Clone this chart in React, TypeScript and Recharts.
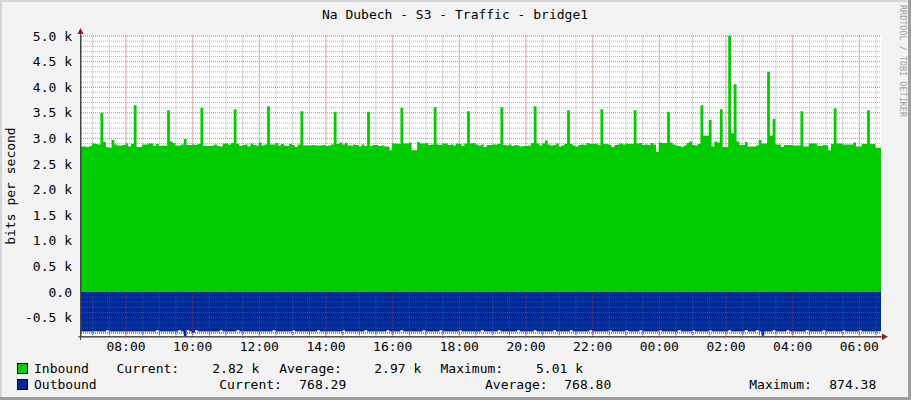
import React from 'react';
import { ComposedChart, Area, XAxis, YAxis, CartesianGrid, ReferenceLine } from 'recharts';

// 5-minute samples, bits per second, starting 06:39
const inbound = [
  2840, 2840, 2830, 2850, 2900, 2890, 2880, 3500, 2930, 2830, 2820, 2970,
  2880, 2860, 2860, 2870, 2900, 2840, 2890, 3650, 2830, 2830, 2880, 2880,
  2900, 2900, 2850, 2890, 2850, 2860, 2850, 3550, 2940, 2910, 2860, 2860,
  2880, 2990, 2870, 2870, 2880, 2870, 2890, 3600, 2850, 2850, 2850, 2860,
  2880, 2850, 2840, 2900, 2900, 2880, 2910, 3570, 2890, 2850, 2870, 2880,
  2840, 2900, 2870, 2860, 2920, 2860, 2880, 3630, 2880, 2880, 2910, 2860,
  2890, 2860, 2850, 2890, 2870, 2830, 2880, 3530, 2860, 2860, 2860, 2870,
  2860, 2860, 2860, 2870, 2850, 2860, 2880, 3520, 2890, 2920, 2880, 2910,
  2860, 2860, 2880, 2870, 2840, 2880, 2850, 3520, 2850, 2870, 2870, 2850,
  2860, 2840, 2840, 2770, 2900, 2900, 2890, 3600, 2900, 2900, 2920, 2770,
  2770, 2930, 2900, 2900, 2910, 2870, 2880, 3610, 2880, 2870, 2900, 2900,
  2870, 2880, 2860, 2900, 2890, 2850, 2900, 3530, 2900, 2910, 2880, 2860,
  2880, 2830, 2870, 2870, 2880, 2880, 2890, 3610, 2870, 2860, 2880, 2850,
  2870, 2860, 2840, 2850, 2850, 2860, 2910, 3630, 2900, 2860, 2900, 2960,
  2880, 2860, 2870, 2900, 2840, 2860, 2890, 3550, 2890, 2860, 2840, 2870,
  2880, 2870, 2910, 2890, 2890, 2900, 2870, 3570, 2890, 2890, 2870, 2830,
  2870, 2880, 2900, 2880, 2900, 2890, 2890, 3550, 2900, 2910, 2870, 2880,
  2870, 2910, 2880, 2740, 2920, 2910, 2910, 3520, 2920, 2880, 2860, 2850,
  2830, 2860, 2910, 2940, 2870, 2860, 2890, 3650, 3050, 3050, 3360, 2840,
  2940, 2920, 3570, 2830, 2830, 5010, 3100, 4060, 2940, 2870, 2870, 2930,
  2840, 2840, 2840, 2860, 2970, 2900, 2900, 4300, 3050, 3380, 2880, 2880,
  2830, 2870, 2870, 2870, 2860, 2860, 2860, 3530, 2840, 2840, 2900, 2900,
  2900, 2850, 2850, 2870, 2860, 2770, 2890, 3590, 2900, 2900, 2880, 2880,
  2880, 2880, 2920, 2840, 2840, 2890, 2890, 3550, 2890, 2890, 2820, 2820,
];

const outbound = [
  772, 772, 770, 771, 771, 768, 772, 771, 771, 745, 771, 772,
  770, 771, 772, 770, 769, 772, 771, 770, 772, 771, 770, 772,
  771, 772, 772, 745, 771, 771, 770, 771, 772, 772, 771, 745,
  771, 874, 745, 771, 795, 745, 771, 772, 771, 771, 770, 771,
  772, 771, 745, 771, 772, 771, 771, 772, 745, 771, 771, 772,
  771, 772, 771, 770, 772, 771, 772, 771, 771, 745, 772, 771,
  771, 772, 772, 771, 745, 771, 772, 771, 771, 772, 772, 771,
  771, 745, 772, 771, 772, 771, 771, 770, 772, 771, 745, 772,
  772, 771, 771, 772, 771, 771, 745, 772, 771, 772, 771, 771,
  771, 772, 745, 771, 772, 771, 771, 745, 772, 771, 772, 771,
  772, 771, 772, 745, 771, 771, 772, 771, 771, 745, 771, 772,
  771, 772, 771, 771, 745, 772, 771, 771, 772, 771, 771, 772,
  745, 771, 772, 771, 771, 772, 745, 771, 772, 771, 771, 772,
  771, 745, 772, 771, 772, 771, 771, 745, 771, 772, 771, 771,
  772, 771, 745, 771, 772, 771, 771, 772, 745, 771, 772, 771,
  771, 772, 771, 745, 771, 772, 771, 771, 772, 771, 745, 771,
  772, 771, 771, 772, 745, 771, 772, 771, 771, 745, 772, 771,
  771, 772, 771, 771, 745, 772, 771, 771, 772, 771, 771, 745,
  772, 771, 771, 772, 745, 771, 772, 771, 771, 772, 745, 771,
  772, 771, 771, 772, 771, 745, 772, 771, 771, 772, 771, 740,
  771, 772, 771, 745, 772, 853, 771, 772, 771, 745, 772, 771,
  771, 772, 745, 771, 772, 771, 771, 772, 771, 745, 771, 772,
  771, 771, 772, 745, 771, 772, 771, 771, 772, 771, 745, 771,
  772, 771, 771, 772, 745, 771, 772, 771, 771, 772, 771, 768,
];

const timeLabels = ['08:00', '10:00', '12:00', '14:00', '16:00', '18:00', '20:00', '22:00', '00:00', '02:00', '04:00', '06:00'];
const yTicks = [-500, 0, 500, 1000, 1500, 2000, 2500, 3000, 3500, 4000, 4500, 5000];

const START = 399; // 06:39 in minutes
const STEP = 5;
const END = START + 1440;
const Y_MIN = -874.38;
const Y_MAX = 5010;

// plot box in pixels
const PLOT_L = 81;
const PLOT_W = 800;
const PLOT_T = 35.5;
const PLOT_H = 301.3;

const toMinutes = (label: string) => {
  const [h, m] = label.split(':').map(Number);
  const v = h * 60 + m;
  return v < START ? v + 1440 : v;
};
const timeTicks = timeLabels.map(toMinutes);

const rows = inbound.map((v, i) => ({ t: START + i * STEP, inb: v, out: -outbound[i] }));
// close the last step at the right edge
rows.push({ t: START + inbound.length * STEP, inb: inbound[inbound.length - 1], out: -outbound[outbound.length - 1] });

// minor grid: every 30 minutes, every 100 bits
const minorX: number[] = [];
for (let m = 420; m < END; m += 30) minorX.push(m);
const minorY: number[] = [];
for (let v = -800; v <= 5000; v += 100) minorY.push(v);

const px = (m: number) => PLOT_L + ((m - START) / (END - START)) * PLOT_W;
const py = (v: number) => PLOT_T + ((Y_MAX - v) / (Y_MAX - Y_MIN)) * PLOT_H;

const fmtY = (v: number) => (v === 0 ? '0.0' : `${(v / 1000).toFixed(1)} k`);
const fmtX = (v: number) => timeLabels[timeTicks.indexOf(v)] ?? '';

const FONT = '"DejaVu Sans Mono", monospace';
const GREEN = '#00cc00';
const BLUE = '#002a97';
const MINOR = '#b0b0b0';
const MAJOR = '#ec8c8c';

const App: React.FC = () => {
  return (
    <div style={{ position: 'absolute', left: 0, top: 0, width: 911, height: 400, background: '#f3f3f3', fontFamily: FONT }}>
      <ComposedChart
        width={911}
        height={400}
        data={rows}
        margin={{ top: PLOT_T, right: 911 - PLOT_L - PLOT_W, bottom: 400 - PLOT_T - PLOT_H - 20, left: PLOT_L - 75 }}
      >
        <CartesianGrid
          fill="#ffffff"
          stroke={MINOR}
          strokeDasharray="1 1"
          verticalPoints={minorX.map(px)}
          horizontalPoints={minorY.map(py)}
        />
        <CartesianGrid
          stroke={MAJOR}
          strokeDasharray="1 1"
          verticalPoints={timeTicks.map(px)}
          horizontalPoints={yTicks.map(py)}
        />
        <XAxis
          type="number"
          dataKey="t"
          domain={[START, END]}
          allowDataOverflow
          ticks={timeTicks}
          tickFormatter={fmtX}
          height={20}
          tickSize={5}
          tickMargin={0}
          tickLine={false}
          axisLine={{ stroke: '#444' }}
          tick={{ fill: '#000', fontSize: 13, fontFamily: FONT }}
        />
        <YAxis
          type="number"
          domain={[Y_MIN, Y_MAX]}
          allowDataOverflow
          ticks={yTicks}
          tickFormatter={fmtY}
          width={75}
          tickSize={6}
          tickMargin={3}
          tickLine={false}
          axisLine={{ stroke: '#444' }}
          tick={{ fill: '#000', fontSize: 13, fontFamily: FONT }}
        />
        <Area
          type="stepAfter"
          dataKey="inb"
          baseValue={0}
          fill={GREEN}
          fillOpacity={1}
          stroke="none"
          isAnimationActive={false}
        />
        <Area
          type="stepAfter"
          dataKey="out"
          baseValue={0}
          fill={BLUE}
          fillOpacity={1}
          stroke="none"
          isAnimationActive={false}
        />
        {/* grid shows faintly through the outbound area in rrdtool */}
        {minorX.map((m) => (
          <ReferenceLine
            key={`vx-${m}`}
            segment={[{ x: m, y: 0 }, { x: m, y: Y_MIN }]}
            stroke={timeTicks.includes(m) ? '#5a3a86' : '#2a4aa6'}
            strokeDasharray="1 1"
          />
        ))}
        {minorY.filter((v) => v < 0).map((v) => (
          <ReferenceLine
            key={`hy-${v}`}
            segment={[{ x: START, y: v }, { x: END, y: v }]}
            stroke={yTicks.includes(v) ? '#5a3a86' : '#2a4aa6'}
            strokeDasharray="1 1"
          />
        ))}
      </ComposedChart>

      {/* rrdtool-style frame, arrows, title and legend */}
      <svg width={911} height={400} style={{ position: 'absolute', left: 0, top: 0, pointerEvents: 'none' }}>
        <rect x={0} y={0} width={911} height={2} fill="#d6d6d6" />
        <rect x={0} y={0} width={2} height={400} fill="#d6d6d6" />
        <rect x={908} y={0} width={3} height={400} fill="#9e9e9e" />
        <rect x={0} y={397} width={911} height={3} fill="#9e9e9e" />

        <line x1={80.5} y1={31} x2={80.5} y2={340} stroke="#444" />
        <line x1={78} y1={336.8} x2={884} y2={336.8} stroke="#444" />
        <polygon points="77.5,34 83.5,34 80.5,28" fill="#8b1c1c" />
        <polygon points="882,333.5 882,340 888,336.8" fill="#8b1c1c" />

        <text x={455} y={19} textAnchor="middle" fontFamily={FONT} fontSize={13} fill="#000">
          Na Dubech - S3 - Traffic - bridge1
        </text>
        <text transform="translate(15,186) rotate(-90)" textAnchor="middle" fontFamily={FONT} fontSize={13} fill="#000">
          bits per second
        </text>
        <text
          transform="translate(900,5) rotate(90)"
          fontFamily={FONT}
          fontSize={9}
          fill="#a0a0a0"
          textLength={112}
          lengthAdjust="spacingAndGlyphs"
        >
          RRDTOOL / TOBI OETIKER
        </text>

        <g fontFamily={FONT} fontSize={13} fill="#000" style={{ whiteSpace: 'pre' }}>
          <rect x={17.5} y={363.5} width={10} height={10} fill={GREEN} stroke="#000" />
          <text x={34} y={373}>Inbound</text>
          <text x={116.5} y={373}>Current:</text>
          <text x={212.3} y={373}>2.82 k</text>
          <text x={279.3} y={373}>Average:</text>
          <text x={374.3} y={373}>2.97 k</text>
          <text x={440.5} y={373}>Maximum:</text>
          <text x={536} y={373}>5.01 k</text>

          <rect x={17.5} y={379.5} width={10} height={10} fill={BLUE} stroke="#000" />
          <text x={34} y={389}>Outbound</text>
          <text x={219.3} y={389}>Current:</text>
          <text x={299.3} y={389}>768.29</text>
          <text x={485} y={389}>Average:</text>
          <text x={564.3} y={389}>768.80</text>
          <text x={749.3} y={389}>Maximum:</text>
          <text x={829.3} y={389}>874.38</text>
        </g>
      </svg>
    </div>
  );
};

export default App;
